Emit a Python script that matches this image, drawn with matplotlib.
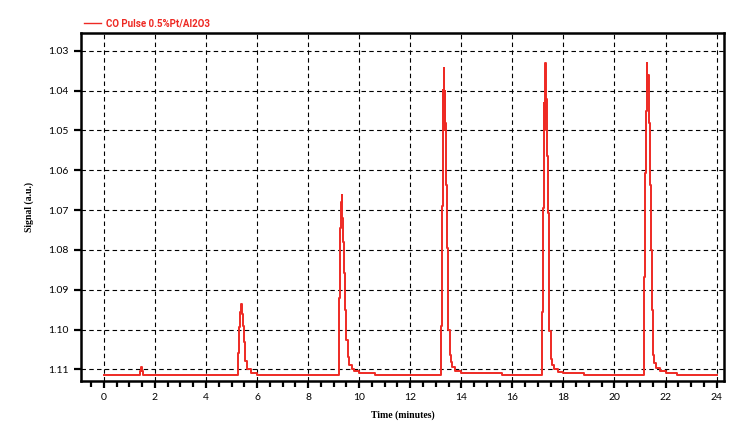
import numpy as np
import matplotlib.pyplot as plt
from matplotlib.ticker import MultipleLocator, FormatStrFormatter

# baseline levels
b = 1.1115
e = 1.1110

# time (minutes) / signal (a.u.), step points
time = [0.00, 1.33, 1.40, 1.44, 1.49, 1.55,
        5.22, 5.26, 5.29, 5.33, 5.37, 5.40, 5.43, 5.47, 5.52, 5.60, 5.75, 6.00,
        9.20, 9.22, 9.25, 9.29, 9.32, 9.34, 9.37, 9.41, 9.45, 9.49, 9.56, 9.62, 9.70, 9.80, 10.00, 10.60,
        13.18, 13.20, 13.24, 13.28, 13.30, 13.32, 13.34, 13.36, 13.38, 13.40, 13.44, 13.48, 13.54,
        13.58, 13.64, 13.75, 14.00, 15.60,
        17.13, 17.15, 17.19, 17.23, 17.25, 17.28, 17.30, 17.32, 17.35, 17.39, 17.45, 17.52, 17.57,
        17.64, 17.80, 18.00, 18.80,
        21.13, 21.15, 21.21, 21.24, 21.26, 21.28, 21.30, 21.34, 21.38, 21.42, 21.47, 21.50, 21.55,
        21.62, 21.80, 22.00, 22.45, 24.00]
signal = [b, b, 1.1103, 1.1093, 1.1103, b,
          b, 1.1060, 1.0994, 1.0955, 1.0935, 1.0960, 1.0990, 1.1030, 1.1080, 1.1100, 1.1110, b,
          b, 1.0920, 1.0744, 1.0680, 1.0663, 1.0720, 1.0780, 1.0857, 1.0950, 1.1025, 1.1070, 1.1088,
          1.1098, 1.1105, e, b,
          b, 1.0991, 1.0690, 1.0398, 1.0480, 1.0343, 1.0500, 1.0400, 1.0480, 1.0636, 1.0794, 1.1000,
          1.1065, 1.1082, 1.1095, 1.1105, e, b,
          b, 1.0957, 1.0694, 1.0430, 1.0500, 1.0331, 1.0470, 1.0420, 1.0565, 1.0706, 1.1004, 1.1075,
          1.1090, 1.1100, 1.1107, e, b,
          b, 1.0869, 1.0606, 1.0450, 1.0331, 1.0400, 1.0360, 1.0480, 1.0636, 1.0800, 1.0950, 1.1065,
          1.1085, 1.1097, 1.1105, e, b, b]

plt.rcParams['font.family'] = ['Lato', 'DejaVu Sans']

fig = plt.figure(figsize=(7.49, 4.28), dpi=100)
ax = fig.add_axes([0.108, 0.110, 0.859, 0.813])

ax.plot(time, signal, color='#ee2a24', lw=1.4, drawstyle='steps-post',
        label='CO Pulse 0.5%Pt/Al2O3')

ax.set_xlim(-0.9, 24.3)
ax.set_ylim(1.1129, 1.0255)
ax.xaxis.set_major_locator(MultipleLocator(2))
ax.xaxis.set_minor_locator(MultipleLocator(0.5))
ax.yaxis.set_major_locator(MultipleLocator(0.01))
ax.yaxis.set_major_formatter(FormatStrFormatter('%.2f'))

ax.grid(True, which='major', color='black', linestyle=(0, (4, 3)), lw=0.8)
ax.tick_params(which='major', direction='out', length=5, width=1.6, labelsize=7.5, pad=4)
ax.tick_params(which='minor', direction='out', length=4, width=1.6)
for s in ax.spines.values():
    s.set_linewidth(1.8)

ax.set_xlabel('Time (minutes)', family='Liberation Serif', fontweight='bold', fontsize=7, labelpad=6)
ax.set_ylabel('Signal (a.u.)', family='Liberation Serif', fontweight='bold', fontsize=7, labelpad=10)

leg = ax.legend(loc='lower left', bbox_to_anchor=(0.0, 1.005), frameon=False,
                prop={'family': 'Roboto', 'weight': 'bold', 'size': 7}, labelcolor='linecolor',
                handlelength=1.8, handletextpad=0.5, borderpad=0.1, borderaxespad=0.2)
leg.get_lines()[0].set_linewidth(1.0)

plt.savefig('out.png', dpi=100)
